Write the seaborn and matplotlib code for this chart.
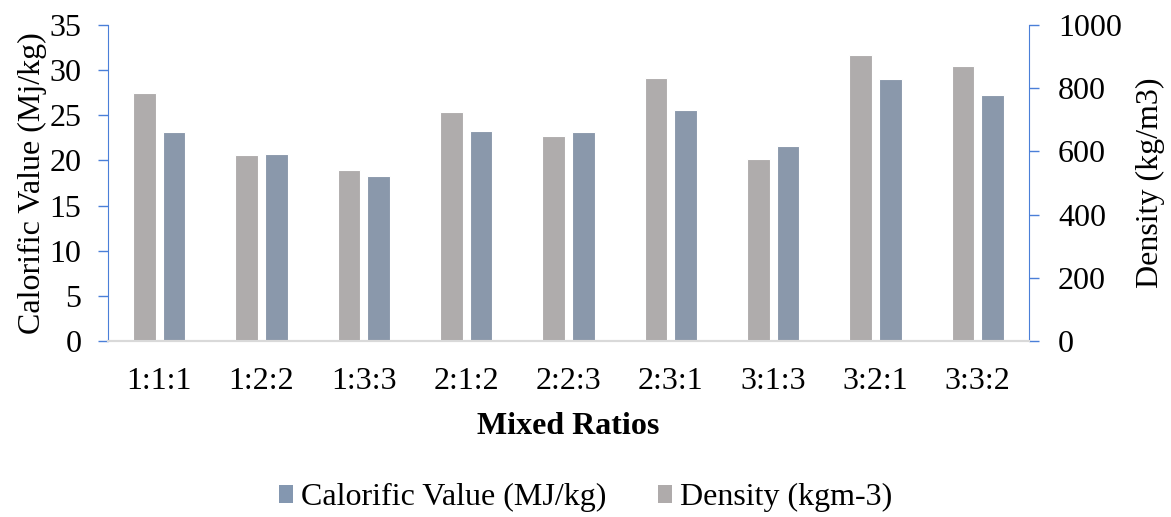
import numpy as np
import pandas as pd
import matplotlib
matplotlib.use("Agg")
import matplotlib.pyplot as plt
from matplotlib.patches import Patch
import seaborn as sns

ratios = ["1:1:1", "1:2:2", "1:3:3", "2:1:2", "2:2:3", "2:3:1", "3:1:3", "3:2:1", "3:3:2"]
calorific = [23.2, 20.7, 18.3, 23.3, 23.1, 25.6, 21.6, 29.0, 27.2]
density = [785, 590, 542, 725, 650, 833, 577, 905, 869]

cal_label = "Calorific Value (MJ/kg)"
den_label = "Density (kgm-3)"
hue_order = [den_label, cal_label]

col_cal = "#8497B0"
col_den = "#AFABAB"
axis_blue = "#4A7FD8"

sns.set_style("white")
plt.rcParams["font.family"] = ["Liberation Serif", "DejaVu Serif"]
plt.rcParams["text.color"] = "black"
plt.rcParams["axes.labelcolor"] = "black"

n = len(ratios)
df_cal = pd.DataFrame({"ratio": ratios * 2,
                       "series": [den_label] * n + [cal_label] * n,
                       "value": [np.nan] * n + calorific})
df_den = pd.DataFrame({"ratio": ratios * 2,
                       "series": [den_label] * n + [cal_label] * n,
                       "value": density + [np.nan] * n})

fig = plt.figure(figsize=(11.71, 5.17), dpi=100)
ax = fig.add_axes([0.0922, 0.3404, 0.7865, 0.6112])
ax2 = ax.twinx()

palette = {cal_label: col_cal, den_label: col_den}
sns.barplot(data=df_cal, x="ratio", y="value", hue="series", hue_order=hue_order,
            order=ratios, palette=palette, width=0.58, gap=0.23, ax=ax,
            legend=False, edgecolor="white", linewidth=0.8, errorbar=None)
sns.barplot(data=df_den, x="ratio", y="value", hue="series", hue_order=hue_order,
            order=ratios, palette=palette, width=0.58, gap=0.23, ax=ax2,
            legend=False, edgecolor="white", linewidth=0.8, errorbar=None)

ax.set_ylim(0, 35)
ax.set_yticks(range(0, 36, 5))
ax2.set_ylim(0, 1000)
ax2.set_yticks(range(0, 1001, 200))
ax.set_xlim(-0.5, n - 0.5)

fs = 23
ax.set_ylabel("Calorific Value (Mj/kg)", fontsize=fs, labelpad=2)
ax2.set_ylabel("Density (kg/m3)", fontsize=fs, labelpad=10)
ax.set_xlabel("Mixed Ratios", fontsize=fs, fontweight="bold", labelpad=11)

for a in (ax, ax2):
    a.spines["top"].set_visible(False)
    a.spines["bottom"].set_color("#D9D9D9")
    a.spines["bottom"].set_linewidth(1.5)
    a.spines["left"].set_color(axis_blue)
    a.spines["right"].set_color(axis_blue)
    a.grid(False)
ax.spines["right"].set_visible(False)
ax2.spines["left"].set_visible(False)

ax.tick_params(axis="y", direction="out", length=7, width=1, color=axis_blue,
               labelcolor="black", labelsize=fs, pad=12, left=True)
ax2.tick_params(axis="y", direction="out", length=7, width=1, color=axis_blue,
                labelcolor="black", labelsize=fs, pad=14, right=True)
ax.tick_params(axis="x", length=0, labelcolor="black", labelsize=fs, pad=19)

handles = [Patch(facecolor=col_cal, edgecolor="none", label=cal_label),
           Patch(facecolor=col_den, edgecolor="none", label=den_label)]
fig.legend(handles=handles, loc="center", bbox_to_anchor=(0.5, 0.037), ncol=2,
           frameon=False, fontsize=fs, handlelength=0.45, handleheight=0.45,
           handletextpad=0.25, columnspacing=1.6)

fig.savefig("out.png", dpi=100)
